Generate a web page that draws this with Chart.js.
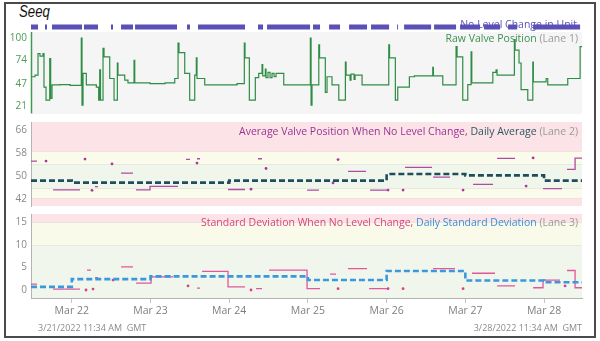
<!DOCTYPE html>
<html><head><meta charset="utf-8">
<script src="https://cdn.jsdelivr.net/npm/chart.js@4.4.1/dist/chart.umd.min.js"></script>
<style>
html,body{margin:0;padding:0;background:#fff;}
#wrap{position:relative;width:600px;height:341px;overflow:hidden;font-family:"Open Sans",sans-serif;}
#frame{position:absolute;left:4px;top:2px;width:592px;height:336px;box-sizing:border-box;border:2px solid #4a4a4a;}
canvas{position:absolute;left:0;}
.lbl{position:absolute;white-space:nowrap;font-size:10.5px;line-height:12px;}
.small{font-size:9px;}
#seeq{position:absolute;left:19px;top:1px;font-family:"Liberation Sans",Arial,sans-serif;font-style:italic;font-size:16.5px;line-height:20px;color:#111;transform:scaleX(0.8);transform-origin:left top;}
</style></head><body>
<div id="wrap">
  <div id="frame"></div>
  <div id="seeq">Seeq</div>
  <canvas id="c1" width="600" height="124" style="top:0;width:600px;height:124px"></canvas>
  <canvas id="c2" width="600" height="106" style="top:110px;width:600px;height:106px"></canvas>
  <canvas id="c3" width="600" height="137" style="top:204px;width:600px;height:137px"></canvas>
  <div class="lbl" style="right:23px;top:18px;color:#5a50b5">No Level Change in Unit</div>
  <div class="lbl" style="right:22px;top:32px;"><span style="color:#3e8f50">Raw Valve Position</span> <span style="color:#9a9a9a">(Lane 1)</span></div>
  <div class="lbl" style="right:22px;top:125px;"><span style="color:#983592">Average Valve Position When No Level Change,</span> <span style="color:#2b5562">Daily Average</span> <span style="color:#9a9a9a">(Lane 2)</span></div>
  <div class="lbl" style="right:22px;top:216px;"><span style="color:#d8437f">Standard Deviation When No Level Change,</span> <span style="color:#3a8fd4">Daily Standard Deviation</span> <span style="color:#9a9a9a">(Lane 3)</span></div>
  <div class="lbl small" style="left:38px;top:322px;color:#8a8a8a">3/21/2022 11:34 AM&nbsp; GMT</div>
  <div class="lbl small" style="right:18px;top:322px;color:#8a8a8a">3/28/2022 11:34 AM&nbsp; GMT</div>
</div>
<script>
// ---------- DATA (x in days since 3/21/2022 00:00 GMT) ----------
const X_MIN = 0.482, X_MAX = 7.482;
const dayTicks = [1, 2, 3, 4, 5, 6, 7];
const dayLabels = ['Mar 22', 'Mar 23', 'Mar 24', 'Mar 25', 'Mar 26', 'Mar 27', 'Mar 28'];

// "No Level Change in Unit" periods
const noChangeStart = [0.482,0.660,0.749,1.155,1.498,1.626,1.804,2.464,2.604,3.366,3.481,4.065,4.269,4.523,4.802,5.133,5.222,5.603,5.933,6.238,6.543,6.861];
const noChangeEnd   = [0.571,0.685,1.130,1.333,1.524,1.778,2.337,2.502,3.201,3.430,4.027,4.154,4.408,4.751,5.031,5.145,5.565,5.882,6.187,6.442,6.658,7.458];

// Raw Valve Position (Lane 1), each value holds until the next time
const rawTime = [
  0.482,0.533,0.571,0.596,0.634,0.647,0.673,0.720,0.732,0.749,
  0.850,0.978,1.121,1.130,1.143,1.185,1.312,1.342,1.355,1.365,
  1.397,1.410,1.482,1.537,1.579,1.587,1.673,1.714,1.791,1.800,
  1.994,2.185,2.308,2.350,2.362,2.435,2.498,2.562,2.582,2.591,
  2.689,2.858,3.099,3.192,3.201,3.256,3.332,3.375,3.417,3.426,
  3.459,3.468,3.493,3.519,3.544,3.570,3.595,3.693,4.031,4.040,
  4.052,4.138,4.148,4.221,4.243,4.306,4.392,4.476,4.485,4.535,
  4.548,4.586,4.599,4.666,4.688,5.027,5.037,5.111,5.141,5.289,
  5.352,5.586,5.594,5.713,5.882,5.895,5.967,6.031,6.073,6.082,
  6.349,6.390,6.403,6.623,6.632,6.682,6.708,6.793,6.857,6.864,
  7.026,7.047,7.301,7.458,7.482];
const rawValue = [
  55,57,82,79,82,43,28,76,30,45.5,
  46,45,100,22,59,45.5,43,28,63,28,
  88,78,53,28,71,57,51,48,74,48,
  47,48,53,94,83,59,28,57,77,53,
  45.5,45.5,47,94,77,28,54,59,69,56,
  64,54,60,54,59,55,59,45.5,100,22,
  45.5,92,77,37,55,45.5,28,72,57,51,
  58,52,57,57,45.5,92,77,28,43,55,
  56,66,56,45.5,90,78,28,46,84,48,
  60,63,57,98,86,71,40,28,72,49,
  53,45.5,53,90,90];
const lane1Ticks = [21, 47, 74, 100];

// Lane 2: Average Valve Position When No Level Change
const avgSegStart = [0.482,0.762,1.295,1.626,1.816,1.994,2.451,2.591,2.985,3.366,3.989,4.510,4.789,5.234,5.590,6.098,6.403,6.987,7.292,7.394];
const avgSegEnd   = [0.558,1.105,1.333,1.778,1.994,2.350,2.502,2.629,3.201,3.417,4.141,4.739,5.018,5.577,5.806,6.352,6.632,7.229,7.394,7.482];
const avgSegValue = [55.2,45.2,46.3,51.0,45.2,46.4,55.8,56.0,45.3,56.0,45.1,51.6,45.1,53.0,49.6,47.1,56.1,45.6,52.3,56.2];
const avgDotTime  = [0.673,1.168,1.257,1.511,2.591,3.277,3.468,4.319,4.383,5.018,5.209,5.971,6.772,6.861];
const avgDotValue = [55.2,55.9,45.0,54.2,54.5,45.4,52.6,47.6,55.7,45.1,45.1,45.1,46.5,56.3];
// Daily Average / Daily Standard Deviation (step per day)
const dailyDays = [0.482, 1, 2, 3, 4, 5, 6, 7, 7.482];
const dailyAvg  = [48.4, 47.7, 47.7, 48.4, 48.4, 50.7, 50.2, 48.4, 48.4];
const dailyStd  = [0.7, 2.4, 3.0, 3.0, 2.2, 4.2, 2.1, 1.7, 1.7];
const lane2Ticks = [42, 50, 58, 66];

// Lane 3: Standard Deviation When No Level Change
const sdSegStart = [0.482,0.762,1.194,1.295,1.626,1.816,2.007,2.591,2.655,2.985,3.341,3.506,3.989,4.281,4.510,4.777,5.590,6.085,6.403,6.861,6.987,7.292,7.394];
const sdSegEnd   = [0.558,1.105,1.244,1.333,1.778,2.007,2.286,2.629,2.985,3.201,3.417,3.989,4.154,4.357,4.751,5.005,5.869,6.377,6.632,6.987,7.203,7.394,7.482];
const sdSegValue = [1.3,0.2,4.4,2.7,5.1,1.5,2.9,0.4,4.1,0.7,0.3,4.4,0.3,3.5,4.7,0.3,4.7,3.7,0.9,0.5,2.2,4.3,0.5];
const sdDotTime  = [1.181,1.270,1.524,2.477,3.277,4.383,5.018,5.209,5.971,7.267];
const sdDotValue = [0.0,0.2,2.2,0.9,0.0,0.3,0.3,0.3,0.3,0.9];
const lane3Ticks = [0, 5, 10, 15];

// ---------- helpers ----------
Chart.defaults.font.family = "'Open Sans', sans-serif";
function segPoints(starts, ends, values) {
  const pts = [];
  for (let i = 0; i < starts.length; i++) {
    pts.push({x: starts[i], y: values[i]}, {x: ends[i], y: values[i]});
    const next = starts[i + 1];
    if (next === undefined || next > ends[i] + 1e-6) pts.push({x: ends[i], y: null});
  }
  return pts;
}
const zip = (xs, ys) => xs.map((x, i) => ({x, y: ys[i]}));

function makeBg(cfg) {
  return {
    id: 'laneBg',
    beforeDraw(chart) {
      const {ctx, chartArea: a, scales: {y}} = chart;
      ctx.save();
      for (const b of cfg.bands) {
        const t = y.getPixelForValue(Math.min(b.to, y.max));
        const bt = y.getPixelForValue(Math.max(b.from, y.min));
        ctx.fillStyle = b.color;
        ctx.fillRect(a.left, t, a.right - a.left, bt - t);
      }
      for (const l of (cfg.lines || [])) {
        const p = Math.round(y.getPixelForValue(l.v)) + 0.5;
        ctx.strokeStyle = l.color; ctx.lineWidth = 1;
        ctx.beginPath(); ctx.moveTo(a.left, p); ctx.lineTo(a.right, p); ctx.stroke();
      }
      if (cfg.axis) {
        ctx.strokeStyle = cfg.axis.color; ctx.lineWidth = 1.5;
        ctx.beginPath();
        ctx.moveTo(a.left + 0.5, y.getPixelForValue(cfg.axis.to));
        ctx.lineTo(a.left + 0.5, y.getPixelForValue(cfg.axis.from));
        ctx.stroke();
      }
      ctx.restore();
    }
  };
}

function yScale(min, max, ticks, color, showBorder) {
  return {
    min, max,
    afterBuildTicks: s => { s.ticks = ticks.map(v => ({value: v})); },
    afterFit: s => { s.width = 31; },
    grid: {display: false, drawTicks: false},
    border: {display: showBorder, color: '#b4b4b4', width: 1},
    ticks: {color, font: {size: 10}, padding: 4}
  };
}
function xScale(show) {
  return {
    type: 'linear', min: X_MIN, max: X_MAX, display: show,
    afterBuildTicks: s => { s.ticks = dayTicks.map(v => ({value: v})); },
    afterFit: s => { s.height = show ? 25 : 0; },
    grid: {drawOnChartArea: false, drawTicks: true, tickLength: 5, color: '#c4c4c4'},
    border: {color: '#b4b4b4'},
    ticks: {callback: v => dayLabels[dayTicks.indexOf(v)], color: '#7f7f7f', font: {size: 10.5}, padding: 2, maxRotation: 0, autoSkip: false}
  };
}
function lane(id, datasets, padding, x, y, bg) {
  return new Chart(document.getElementById(id), {
    type: 'line',
    data: {datasets},
    options: {
      responsive: false, animation: false, devicePixelRatio: 1,
      layout: {padding},
      plugins: {legend: {display: false}, tooltip: {enabled: false}},
      elements: {point: {radius: 0}, line: {tension: 0}},
      scales: {x, y}
    },
    plugins: [makeBg(bg)]
  });
}

// ---------- Lane 1 ----------
const BAR_Y = 112.8;
lane('c1', [
  {data: segPoints(noChangeStart, noChangeEnd, noChangeStart.map(() => BAR_Y)), borderColor: '#5a50b5', borderWidth: 5, borderCapStyle: 'butt', spanGaps: false, stepped: true},
  {data: zip(rawTime, rawValue), borderColor: '#2f8c45', borderWidth: 1.2, stepped: true}
], {left: 0, right: 18, top: 23, bottom: 10}, xScale(false),
  yScale(11.8, 117.4, lane1Ticks, '#4f9a5a', false),
  {bands: [{from: -Infinity, to: 107, color: '#f5f5f5'}], axis: {from: 12.5, to: 107, color: '#3f9a50'}});

// ---------- Lane 2 ----------
lane('c2', [
  {data: zip(dailyDays, dailyAvg), borderColor: '#1e4e5c', borderWidth: 2.6, borderDash: [6, 3], stepped: true, order: 0},
  {data: segPoints(avgSegStart, avgSegEnd, avgSegValue), borderColor: '#b04aa3', borderWidth: 1.3, spanGaps: false, stepped: true, order: 1},
  {data: zip(avgDotTime, avgDotValue), showLine: false, pointRadius: 1.4, pointBackgroundColor: '#a8389a', pointBorderWidth: 0, order: 1}
], {left: 0, right: 18, top: 12, bottom: 10}, xScale(false),
  yScale(39.56, 68.78, lane2Ticks, '#8a8a8a', true),
  {bands: [
    {from: 58.7, to: Infinity, color: '#fbe3e7'},
    {from: 54.2, to: 58.7, color: '#fbfbec'},
    {from: 45.8, to: 54.2, color: '#f1f6ec'},
    {from: 42.3, to: 45.8, color: '#fbfbec'},
    {from: -Infinity, to: 42.3, color: '#fbe3e7'}],
   lines: [{v: 58.7, color: '#eee2dc'}, {v: 54.2, color: '#e6e9de'}, {v: 45.8, color: '#e6e9de'}, {v: 42.3, color: '#eee2dc'}]});

// ---------- Lane 3 ----------
lane('c3', [
  {data: zip(dailyDays, dailyStd), borderColor: '#3a98dc', borderWidth: 2.6, borderDash: [6, 3], stepped: true, order: 0},
  {data: segPoints(sdSegStart, sdSegEnd, sdSegValue), borderColor: '#e2579c', borderWidth: 1.3, spanGaps: false, stepped: true, order: 1},
  {data: zip(sdDotTime, sdDotValue), showLine: false, pointRadius: 1.4, pointBackgroundColor: '#d8408a', pointBorderWidth: 0, order: 1}
], {left: 0, right: 18, top: 10, bottom: 18}, xScale(true),
  yScale(-1.76, 16.76, lane3Ticks, '#8a8a8a', true),
  {bands: [
    {from: 15, to: Infinity, color: '#fbe3e7'},
    {from: 10, to: 15, color: '#fafaea'},
    {from: -Infinity, to: 10, color: '#f1f6ec'}],
   lines: [{v: 15, color: '#eee2dc'}, {v: 10, color: '#e6e9de'}]});
</script>
</body></html>
